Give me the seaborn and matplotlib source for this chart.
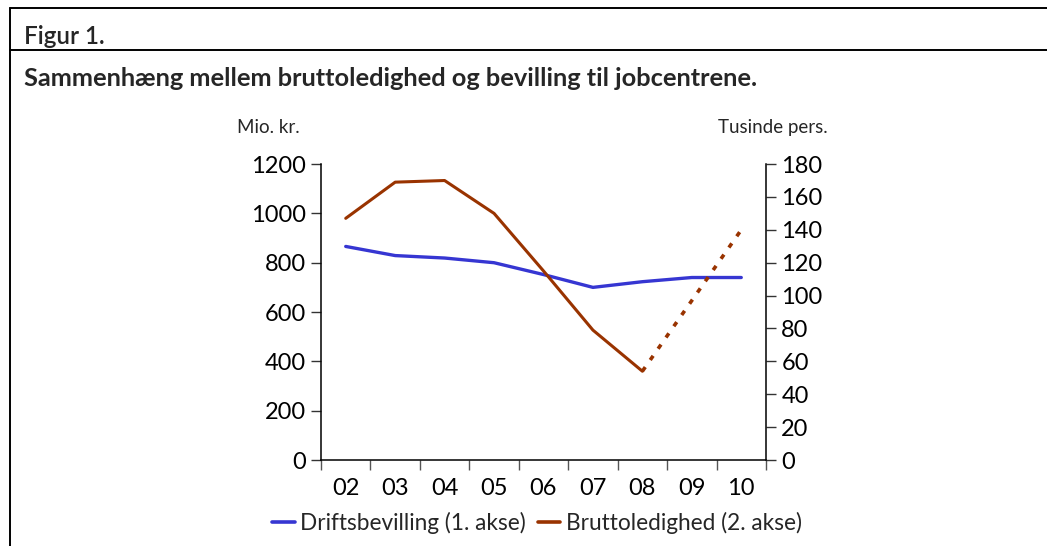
import matplotlib

matplotlib.use("Agg")

import matplotlib.pyplot as plt
import numpy as np
import pandas as pd
import seaborn as sns
from matplotlib.lines import Line2D

years = ["02", "03", "04", "05", "06", "07", "08", "09", "10"]
driftsbevilling = [866, 829, 819, 800, 752, 700, 723, 740, 740]
bruttoledighed = [147, 169, 170, 150, 115, 79, 54, None, None]
bruttoledighed_prognose = [None, None, None, None, None, None, 54, 97, 140]

BLUE = "#3636D2"
BROWN = "#993300"

sns.set_theme(style="white")
plt.rcParams["font.family"] = ["Lato", "DejaVu Sans"]

df = pd.DataFrame(
    {
        "pos": np.arange(len(years)),
        "drift": driftsbevilling,
        "brutto": bruttoledighed,
        "prognose": bruttoledighed_prognose,
    }
)

fig = plt.figure(figsize=(10.47, 5.46), dpi=100)
ax = fig.add_axes([0.3066, 0.1575, 0.425, 0.542])
ax2 = ax.twinx()

sns.lineplot(data=df, x="pos", y="drift", ax=ax, color=BLUE, lw=2.4)
sns.lineplot(data=df.dropna(subset=["brutto"]), x="pos", y="brutto", ax=ax2,
             color=BROWN, lw=2.2)
sns.lineplot(data=df.dropna(subset=["prognose"]), x="pos", y="prognose", ax=ax2,
             color=BROWN, lw=2.6, linestyle=(0, (1.4, 2.4)))

ax.set_xlim(-0.5, len(years) - 0.5)
ax.set_ylim(0, 1200)
ax2.set_ylim(0, 180)
ax.set_yticks(range(0, 1201, 200))
ax2.set_yticks(range(0, 181, 20))

# ticks at category borders, labels in the middle
ax.set_xticks(np.arange(-0.5, len(years), 1.0))
ax.set_xticklabels([])
ax.set_xticks(np.arange(len(years)), minor=True)
ax.set_xticklabels(years, minor=True)
ax.tick_params(axis="x", which="major", direction="out", length=7, width=1, color="#555555", bottom=True)
ax.tick_params(axis="x", which="minor", length=0, labelsize=17, pad=13, labelcolor="black")
ax.tick_params(axis="y", direction="out", length=7, width=1, color="#333333", left=True,
               labelsize=17, pad=4, labelcolor="black")
ax2.tick_params(axis="y", direction="out", length=7, width=1, color="#333333", right=True,
                labelsize=17, pad=4, labelcolor="black")

for a in (ax, ax2):
    a.set_xlabel("")
    a.set_ylabel("")
    a.spines["top"].set_visible(False)
    for s in a.spines.values():
        s.set_color("black")
        s.set_linewidth(1.1)
ax.spines["right"].set_visible(False)
ax2.spines["left"].set_visible(False)
ax2.spines["bottom"].set_visible(False)

fig.text(268 / 1047, 1 - 127 / 546, "Mio. kr.", fontsize=13.5, ha="center", va="center")
fig.text(773 / 1047, 1 - 127 / 546, "Tusinde pers.", fontsize=13.5, ha="center", va="center")

fig.text(24 / 1047, 1 - 37 / 546, "Figur 1.", fontsize=17.5, fontweight="semibold", ha="left", va="center")
fig.text(24 / 1047, 1 - 79 / 546, "Sammenhæng mellem bruttoledighed og bevilling til jobcentrene.",
         fontsize=18.3, fontweight="bold", ha="left", va="center")

# frame lines
for xs, ys in [([10, 1047], [8, 8]), ([10, 1047], [50, 50]), ([10, 10], [8, 546])]:
    fig.add_artist(Line2D([x / 1047 for x in xs], [1 - y / 546 for y in ys],
                          transform=fig.transFigure, color="black", lw=1.4))

handles = [Line2D([], [], color=BLUE, lw=2.6), Line2D([], [], color=BROWN, lw=2.6)]
fig.legend(handles, ["Driftsbevilling (1. akse)", "Bruttoledighed (2. akse)"],
           loc="center", bbox_to_anchor=(537 / 1047, 1 - 523 / 546), ncol=2,
           frameon=False, fontsize=16.3, handlelength=1.0, handletextpad=0.25,
           columnspacing=0.5)

fig.savefig("out.png", dpi=100)
